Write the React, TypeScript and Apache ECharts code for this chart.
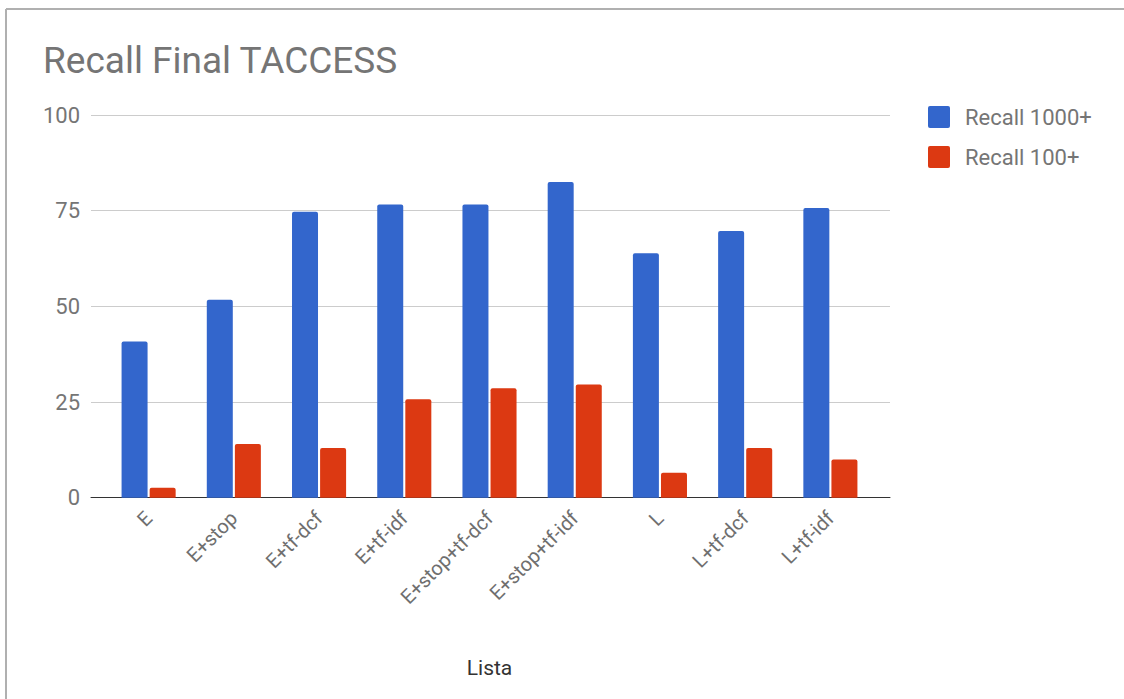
import React, { useEffect, useRef } from "react";
import * as echarts from "echarts";

const categories = ["E", "E+stop", "E+tf-dcf", "E+tf-idf", "E+stop+tf-dcf", "E+stop+tf-idf", "L", "L+tf-dcf", "L+tf-idf"];
const recall1000 = [40.8, 51.7, 74.7, 76.6, 76.6, 82.5, 63.9, 69.7, 75.7];
const recall100 = [2.6, 14.0, 13.0, 25.7, 28.6, 29.6, 6.5, 13.0, 10.0];
const yTicks = [0, 25, 50, 75, 100];

const FONT = "Roboto, 'Noto Sans', Arial, sans-serif";
const GRAY = "#757575";

export default function App() {
  const ref = useRef<HTMLDivElement>(null);
  useEffect(() => {
    if (!ref.current) return;
    const chart = echarts.init(ref.current, undefined, { renderer: "svg" });
    const top = 115;
    const bottom = 699 - 497.7;
    chart.setOption({
      animation: false,
      backgroundColor: "#ffffff",
      textStyle: { fontFamily: FONT },
      title: {
        text: "Recall Final TACCESS",
        left: 38,
        top: 37,
        textStyle: { fontSize: 37, fontWeight: "normal", color: GRAY, fontFamily: FONT },
      },
      legend: {
        orient: "vertical",
        left: 923,
        top: 101,
        itemWidth: 22,
        itemHeight: 22,
        itemGap: 18,
        icon: "path://M2,0 L20,0 Q22,0 22,2 L22,20 Q22,22 20,22 L2,22 Q0,22 0,20 L0,2 Q0,0 2,0 Z",
        textStyle: { fontSize: 22, color: GRAY, fontFamily: FONT, padding: [0, 0, 0, 10] },
        data: ["Recall 1000+", "Recall 100+"],
      },
      graphic: [
        { type: "line", shape: { x1: 6, y1: 9, x2: 1124, y2: 9 }, style: { stroke: "#b0b0b0", lineWidth: 2 } },
        { type: "line", shape: { x1: 6, y1: 9, x2: 6, y2: 699 }, style: { stroke: "#b0b0b0", lineWidth: 2 } },
      ],
      grid: [
        { left: 91, right: 1124 - 890, top, bottom },
        { left: 106, right: 1124 - 873, top, bottom },
      ],
      xAxis: [
        {
          type: "value",
          gridIndex: 0,
          min: 0,
          max: 1,
          axisLine: { show: true, lineStyle: { color: "#333333", width: 1 } },
          axisTick: { show: false },
          axisLabel: { show: false },
          splitLine: { show: false },
        },
        {
          type: "category",
          gridIndex: 1,
          data: categories,
          axisLine: { show: false },
          axisTick: { show: false },
          axisLabel: {
            rotate: 45,
            interval: 0,
            margin: 17,
            fontSize: 20,
            color: "#6f6f6f",
            fontFamily: FONT,
          },
          name: "Lista",
          nameLocation: "middle",
          nameGap: 160,
          nameTextStyle: { fontSize: 21, color: "#333333", fontFamily: FONT },
        },
      ],
      yAxis: [
        {
          type: "value",
          gridIndex: 0,
          min: yTicks[0],
          max: yTicks[yTicks.length - 1],
          interval: 25,
          axisLine: { show: false },
          axisTick: { show: false },
          axisLabel: { fontSize: 22, color: GRAY, margin: 11, fontFamily: FONT },
          splitLine: { lineStyle: { color: "#cccccc", width: 1 } },
        },
        {
          type: "value",
          gridIndex: 1,
          min: yTicks[0],
          max: yTicks[yTicks.length - 1],
          interval: 25,
          show: false,
          splitLine: { show: false },
        },
      ],
      series: [
        {
          name: "Recall 1000+",
          type: "bar",
          xAxisIndex: 1,
          yAxisIndex: 1,
          data: recall1000,
          barWidth: 26,
          barGap: "8%",
          itemStyle: { color: "#3366cc", borderRadius: [2, 2, 0, 0] },
        },
        {
          name: "Recall 100+",
          type: "bar",
          xAxisIndex: 1,
          yAxisIndex: 1,
          data: recall100,
          barWidth: 26,
          barGap: "8%",
          itemStyle: { color: "#dc3912", borderRadius: [2, 2, 0, 0] },
        },
      ],
    });
    return () => chart.dispose();
  }, []);
  return (
    <div
      ref={ref}
      style={{ position: "absolute", left: 0, top: 0, width: 1124, height: 699 }}
    />
  );
}
